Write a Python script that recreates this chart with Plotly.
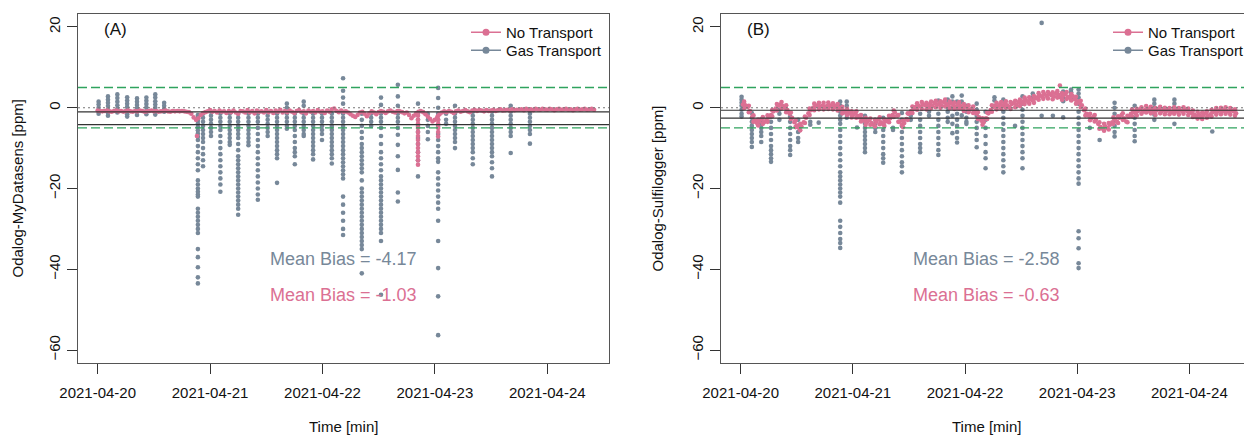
import plotly.graph_objects as go
import pandas as pd

# ---------------- data ----------------
START = pd.Timestamp("2021-04-20 00:00")
STEP_H = 0.5  # pink series sampled every 30 min (hours)

x_ticks = ["2021-04-20", "2021-04-21", "2021-04-22", "2021-04-23", "2021-04-24"]
y_ticks = [-60, -40, -20, 0, 20]
limit_lines = [5, -5]
zero_line = 0

panel_labels = ["(A)", "(B)"]
y_titles = ["Odalog-MyDatasens [ppm]", "Odalog-Sulfilogger [ppm]"]
x_title = "Time [min]"
series_names = ["No Transport", "Gas Transport"]

mean_bias_gas = [-4.17, -2.58]
mean_bias_none = [-1.03, -0.63]

# Panel A, No Transport (ppm, every 30 min from 0 h)
pink_A_start_h = 0.0
pink_A = [
    -0.7, -0.8, -0.9, -0.8, -0.7, -0.9, -1.0, -0.8, -0.7, -0.9, -0.8, -1.0,
    -0.8, -0.7, -0.9, -1.0, -0.8, -0.9, -0.7, -0.8, -1.0, -0.9, -0.8, -0.7,
    -0.9, -0.8, -1.0, -0.9, -0.8, -0.7, -0.9, -1.0, -0.8, -0.9, -0.8, -0.9,
    -0.8, -0.9, -1.0, -1.1, -1.5, -2.4, -3.0, -2.6, -1.8, -1.3, -1.1, -0.9,
    -0.6, -1.0, -0.8, -1.2, -0.7, -1.0, -0.9, -1.3, -0.8, -1.1, -0.7, -1.2,
    -1.5, -0.8, -0.9, -1.2, -0.6, -1.1, -0.8, -1.4, -0.7, -1.0, -0.9, -1.2,
    -0.6, -1.1, -0.8, -1.3, -0.7, -1.0, -0.5, -1.2, -0.8, -1.1, -0.7, -1.0,
    -1.3, -0.8, -0.6, -1.1, -0.9, -1.4, -0.7, -1.0, -0.8, -1.2, -0.6, -1.0,
    -0.9, -1.3, -0.7, -1.0, -0.4, -0.2, -0.8, -1.1, -0.7, -1.0, -0.9, -1.2,
    -1.6, -2.0, -2.3, -1.8, -1.2, -1.0, -1.5, -2.1, -1.4, -0.9, -1.2, -1.6,
    -1.1, -0.8, -1.0, -1.3, -0.9, -0.7, -1.0, -1.2, -0.8, -0.9, -1.1, -1.4,
    -1.2, -1.8, -2.6, -2.0, -1.4, -1.0, -0.8, -1.1, -1.6, -2.2, -2.8, -3.4,
    -3.0, -2.4, -1.6, -1.2, -0.9, -1.1, -0.8, -1.0, -1.3, -0.9, -0.7, -1.0,
    -0.8, -0.6, -0.9, -1.1, -0.7, -0.5, -0.8, -0.6, -0.7, -0.9, -0.6, -0.8,
    -0.7, -0.5, -0.8, -0.6, -0.4, -0.7, -0.6, -0.5, -0.7, -0.4, -0.6, -0.5,
    -0.5, -0.4, -0.6, -0.3, -0.5, -0.4, -0.6, -0.3, -0.4, -0.5, -0.3, -0.4,
    -0.5, -0.3, -0.4, -0.6, -0.4, -0.3, -0.5, -0.4, -0.3, -0.5, -0.4, -0.6,
    -0.4, -0.3, -0.5, -0.4, -0.3, -0.5, -0.4, -0.3, -0.5,
]
# Panel A, No Transport excursions: (hour, values)
pink_A_spikes = [
    (21.2, [-7.0]),
    (68.4, [-2, -3, -4, -5, -6, -7, -8, -9, -10, -11, -12, -13, -14.1]),
    (72.7, [-2, -3, -4, -5, -6, -7.1]),
]
# Panel A, Gas Transport: (hour, values)
gas_A_spikes = [
    (0.2, [1.5, 0.8, 0.0, -0.8, -1.5]),
    (2.2, [2.8, 2.0, 1.2, 0.4, -0.5, -1.3, -2.0]),
    (4.2, [3.3, 2.4, 1.5, 0.6, -0.3, -1.2]),
    (6.3, [2.6, 1.8, 1.0, 0.2, -0.7, -1.6, -2.2]),
    (8.4, [2.3, 1.5, 0.7, -0.1, -1.0, -1.8]),
    (10.4, [2.5, 1.7, 0.9, 0.1, -0.8, -1.6]),
    (12.3, [3.3, 2.5, 1.6, 0.8, 0.0, -0.9, -1.7]),
    (14.2, [1.2, 0.5, -0.3, -1.0]),
    (21.4, [-1.8, -2.5, -3.2, -4, -4.8, -5.6, -6.4, -7.2, -8, -9.5, -11, -12.5, -14,
            -15.5, -18, -19, -20, -20.8, -21.5, -22, -25, -26, -27, -28, -29, -30,
            -31, -35, -37, -39.5, -42, -43.5]),
    (22.5, [-1.5, -2.5, -3.5, -4.5, -5.5, -6.5, -7.5, -8.5, -10, -11.5, -13, -14.5]),
    (24.2, [-1, -2, -3, -4, -5, -6, -7]),
    (26.2, [-1.5, -2.5, -3.5, -4.5, -5.5, -7, -8.5, -10, -11.5, -13, -14.5, -16,
            -17.5, -19, -20.8]),
    (28.2, [-1.5, -2.5, -3.5, -4.5, -5.5, -6.5, -7.5, -8.5, -9.2]),
    (30.0, [-1.5, -2.5, -3.5, -4.5, -5.5, -6.5, -7.5, -9, -10.5, -12, -13, -14, -15,
            -16, -17, -18, -19, -20, -21, -22, -23, -24, -25, -26.5]),
    (32.2, [-1.5, -2.5, -3.5, -4.5, -5.5, -6.5, -7.5, -8.5, -9.3]),
    (34.2, [-1.5, -2.5, -3.5, -5, -6.5, -8, -9.5, -11, -12.5, -14, -15.5, -17,
            -18.5, -20, -21.5, -22.8]),
    (36.3, [-1, -2, -3, -4, -5, -6, -7]),
    (38.3, [-1.5, -2.5, -3.5, -4.5, -5.5, -6.5, -7.5, -8.5, -9.5, -10.5, -11.5,
            -12.5, -18.6]),
    (40.4, [1, 0, -1.5, -2.5, -3.5, -4.5, -5.2]),
    (42.1, [-1.5, -2.5, -3.5, -4.5, -5.5, -7, -8.5, -10, -11, -12, -14]),
    (44.0, [1.5, 0.5, -1.5, -2.5, -3.5, -4.5, -5.5, -6.5, -7]),
    (46.0, [-1.5, -2.5, -3.5, -4.5, -5.5, -6.5, -7.5, -8.5, -9.5, -10.5, -11.5, -12.8]),
    (47.9, [-1.5, -2.5, -3.5, -4.5, -5.5, -6.5, -8]),
    (50.0, [-1.5, -2.5, -3.5, -4.5, -5.5, -6.5, -7.5, -8.5, -9.5, -10.5, -11.5,
            -12.5, -13.8]),
    (52.4, [7.3, 4.2, 2.5, 1, -1.5, -2.5, -3.5, -4.5, -5.5, -6.5, -7.5, -8.5, -9.5,
            -10.5, -11.5, -12.5, -13.5, -14.5, -15.5, -16.5, -17.5, -22, -24, -26,
            -28, -30, -31.5]),
    (56.4, [-1.5, -3, -4.5, -6, -7.5, -9, -10, -11, -12, -13, -14, -15, -16, -18,
            -20, -21, -22, -23, -24, -25, -26, -27, -28, -29, -30, -31, -32, -33,
            -34, -35, -41]),
    (58.4, [-1.5, -2.5, -3.5, -4.5]),
    (60.5, [2.5, 0.7, -1.5, -2.5, -3.5, -5, -7, -9, -11, -12.5, -14, -15.5, -17,
            -18, -19, -20, -21, -22, -23, -24, -25, -26, -27, -28, -29, -30, -31,
            -33, -46.3]),
    (64.1, [5.7, 2.8, 0.5, -1.5, -2.5, -3.5, -5, -6.7, -9.2, -12, -15.4, -21, -23.2]),
    (68.4, [1, -1.5, -3, -4.5, -6, -7.5, -9, -11, -13, -17]),
    (70.5, [-1.5, -3, -4.5, -6, -7.8]),
    (72.7, [4.9, 2.4, 0, -1.5, -3, -4.5, -6.5, -8, -9.5, -11, -12.5, -13.4, -16,
            -17.5, -19, -20.5, -22, -23.5, -25, -28, -33, -39.7, -46.7, -56.3]),
    (74.4, [-1.5, -3, -4]),
    (76.3, [0.5, -1.5, -2.5, -3.5, -4.5, -5.5, -6.5, -7.5, -8.5, -10]),
    (80.1, [-1, -2, -3, -4, -5, -6, -7, -8, -9, -10, -11, -12.5, -14]),
    (84.2, [-1, -2, -3, -4, -5, -6, -7, -8, -9, -10, -11, -12, -13.5, -15, -17]),
    (88.2, [0.5, -1, -2, -3, -4, -5, -6, -7, -11.2]),
    (92.3, [-0.5, -1.5, -2.5, -3.5, -4.5, -5.5, -6.5, -8.9]),
]

# Panel B, No Transport (ppm, centre of the band every 30 min from 0.5 h)
pink_B_start_h = 0.5
pink_B = [
    0.8, 0.6, 0.2, -0.8, -2.2, -3.2, -3.8, -3.4, -2.8, -3.6, -3.0, -2.4,
    -1.8, -0.9, -0.2, 0.5, 0.8, 0.4, 0.0, -0.6, -1.5, -2.5, -3.6, -4.4,
    -5.0, -4.6, -3.6, -2.5, -1.4, -0.6, 0.0, 0.4, 0.6, 0.3, 0.5, 0.2,
    0.4, 0.6, 0.3, 0.5, 0.2, 0.0, -0.4, -0.8, -1.2, -0.9, -1.5, -1.8,
    -1.4, -2.0, -2.4, -2.8, -3.2, -3.6, -3.0, -3.8, -4.2, -3.5, -2.9, -3.6,
    -4.0, -3.4, -3.0, -2.6, -1.8, -1.2, -2.0, -3.4, -4.2, -3.8, -2.8, -1.5,
    -0.8, -0.3, 0.2, 0.5, 0.3, 0.8, 0.6, 0.2, 0.9, 0.5, 1.2, 0.7,
    1.0, 0.6, 1.4, 0.9, 0.4, 1.1, 0.7, 0.2, 0.8, 0.4, -0.2, 0.3,
    0.0, -0.5, -0.2, -0.8, -1.5, -2.4, -3.2, -3.6, -2.6, -1.4, -0.6, 0.2,
    0.5, 0.3, 0.8, 0.4, 1.0, 0.6, 0.2, 0.9, 1.2, 0.7, 1.4, 1.0,
    1.6, 1.9, 1.5, 2.1, 1.8, 2.3, 2.6, 3.0, 2.8, 3.3, 2.9, 3.4,
    3.1, 2.8, 3.5, 3.2, 2.6, 3.0, 3.4, 2.7, 2.4, 2.9, 2.1, 1.6,
    1.2, 0.6, -0.6, -1.5, -2.0, -2.6, -2.2, -3.0, -4.0, -4.8, -5.2, -4.6,
    -5.0, -4.2, -3.6, -2.8, -3.4, -2.5, -1.8, -2.6, -3.4, -2.2, -1.5, -1.0,
    -1.4, -0.8, -0.4, -1.0, -0.6, -0.2, -0.8, -0.4, -1.2, -0.7, -0.3, -0.9,
    -0.6, -0.9, -0.5, -1.1, -0.8, -0.6, -1.0, -0.7, -0.9, -0.5, -0.8, -1.1,
    -1.3, -1.7, -2.1, -1.6, -2.2, -1.8, -1.4, -2.0, -1.6, -1.1, -0.8, -1.0,
    -0.7, -0.9, -0.6, -0.8, -1.0, -0.7, -0.9, -1.4,
]
# Panel B, No Transport: upper and lower edge of the band, hourly from 0.75 h
pink_B_edge_start_h = 0.75
pink_B_upper = [
    1.5, 0.5, -1.9, -2.9, -2.3, -1.9, -0.6, 0.9, 1.4, 0.6, -1.2, -3.1,
    -4.0, -2.2, -0.2, 1.0, 1.2, 1.2, 1.3, 1.1, 0.9, 0.2, -0.3, -0.9,
    -0.9, -1.8, -2.5, -2.7, -3.0, -2.4, -2.9, -2.0, -0.7, -1.8, -3.2, -1.4,
    0.3, 1.1, 1.4, 1.2, 1.5, 1.7, 1.6, 2.0, 1.5, 1.3, 1.4, 0.9,
    0.6, 0.3, -1.1, -2.6, -1.2, 0.6, 1.2, 1.4, 1.6, 1.4, 1.7, 2.0,
    2.5, 2.6, 2.9, 3.6, 3.9, 3.9, 3.8, 4.1, 3.6, 3.9, 3.4, 2.7,
    1.7, -0.2, -1.5, -1.8, -3.6, -4.0, -3.8, -2.4, -2.1, -1.4, -2.0, -0.4,
    -0.3, 0.1, 0.4, 0.2, -0.1, 0.2, 0.0, -0.1, 0.1, -0.1, 0.1, -0.2,
    -0.7, -1.0, -1.2, -0.9, -0.5, -0.1, 0.0, 0.1, -0.1, -0.4,
]
pink_B_lower = [
    -0.1, -1.1, -3.5, -4.4, -4.0, -3.5, -2.1, -0.7, -0.2, -1.1, -2.8, -4.8,
    -5.6, -3.8, -1.8, -0.6, -0.4, -0.4, -0.3, -0.4, -0.7, -1.4, -1.8, -2.4,
    -2.5, -3.4, -4.2, -4.2, -4.6, -4.1, -4.5, -3.6, -2.3, -3.5, -4.8, -3.0,
    -1.3, -0.5, -0.3, -0.4, -0.1, 0.1, 0.0, 0.3, -0.1, -0.3, -0.2, -0.8,
    -1.1, -1.3, -2.8, -4.2, -2.8, -1.0, -0.4, -0.2, 0.0, -0.3, 0.1, 0.4,
    0.9, 1.0, 1.2, 2.0, 2.2, 2.3, 2.1, 2.5, 2.0, 2.2, 1.8, 1.0,
    0.1, -1.9, -3.1, -3.4, -5.2, -5.7, -5.4, -4.0, -3.8, -3.0, -3.6, -2.1,
    -1.9, -1.5, -1.2, -1.4, -1.8, -1.4, -1.6, -1.6, -1.5, -1.7, -1.5, -1.8,
    -2.3, -2.7, -2.8, -2.5, -2.2, -1.7, -1.6, -1.5, -1.7, -2.0,
]
pink_B_spikes = [
    (68.3, [5.5]),
]
# Panel B, Gas Transport: (hour, values)
gas_B_spikes = [
    (0.2, [2.7, 2.0, 1.2, 0.5, -0.5, -1.5, -2.2]),
    (2.4, [-1.3, -2.5, -3.5, -4.5, -5.5, -6.5, -7.5, -8.5, -9.7]),
    (4.4, [-3, -4, -5, -6, -7, -8.5]),
    (6.5, [-2.2, -3.5, -5, -6.5, -8, -9.5, -10.5, -11.5, -12.5, -13.4]),
    (8.3, [-0.5, -1.5, -3]),
    (10.6, [-2.2, -3.5, -5, -6.5, -8, -9.5, -10.5, -11.7]),
    (12.3, [-3, -4.5, -6, -7.5, -8.5]),
    (14.9, [-3.5, -4.2]),
    (16.7, [-3.7]),
    (21.3, [1.5, 0.5, -1, -2, -3, -4, -5.5, -7, -8.5, -10, -11.5, -13, -14.5, -16,
            -17, -18, -19, -20, -21, -22, -23.5, -28, -29.5, -31, -32.5, -33.5, -34.7]),
    (22.7, [1.5, 0.5, -0.5, -1.5, -2.5]),
    (24.9, [-4.9]),
    (26.6, [-2, -3, -4, -5, -6, -7, -8, -9, -10, -11]),
    (28.8, [-3, -4, -5, -6]),
    (30.5, [-2.5, -4, -5.5, -7, -8.5, -10, -11.5, -12.5, -13.6]),
    (32.6, [-5, -5.5]),
    (34.5, [-1.3, -3, -4.5, -6, -7.5, -9, -10.5, -12, -13.5, -14.5, -16]),
    (36.4, [-1, -2, -3]),
    (38.4, [-1.5, -3, -4.5, -6, -7.5, -9, -10, -11]),
    (40.3, [0.5, -1, -2]),
    (42.3, [1.8, -1.5, -3, -4.5, -6, -7.5, -9, -10.5, -11.7]),
    (44.3, [2, 1, 0, -1, -2.5, -3.5]),
    (45.3, [2.8, 1.5, 0, -2, -4, -6.3]),
    (46.3, [1.5, 0, -1.5, -3, -4.5, -6, -7.5, -8.6]),
    (47.3, [3.0, 1.5, 0, -1.9]),
    (48.3, [0.5, -1, -2.5, -3.5, -4]),
    (50.5, [1, -0.5, -2, -3.5, -5, -6.5, -8, -9.8]),
    (52.4, [-1, -3, -5, -7, -9, -11, -12.5, -15]),
    (54.3, [2.6, 1.8, 0.5]),
    (56.2, [2, 0.5, -1, -2.5, -4, -5.5, -7, -8.5, -10, -11.5, -13, -14.5, -16]),
    (58.7, [-4.5]),
    (60.3, [2.8, 1, -0.5, -2, -3.5, -5, -6.5, -8, -9.5, -11, -12.5, -15]),
    (62.5, [3.5, 2.6]),
    (64.4, [21.0, -2]),
    (66.8, [-2]),
    (69.0, [4.0, 3.5, 2.5, 1.6, -2.4]),
    (70.7, [4.5, 3.8, 3.0, 2.0]),
    (72.3, [4.5, 3.5, 2.5, 1, -1, -2.5, -4, -5.5, -7, -8.5, -10, -11.5, -13, -14.5,
            -16, -17.5, -18.8, -30.6, -32.3, -34.8, -38.5, -39.7]),
    (74.7, [-5]),
    (76.8, [-8]),
    (80.0, [1.2, 0, -1.5, -3, -4.5, -6, -7.1]),
    (84.3, [0.5, -1, -2.5, -4, -5.5, -7, -8.3]),
    (88.5, [2, 1, 0, -1, -1.7, -3]),
    (92.8, [2, 1, 0, -1, -4]),
    (100.9, [-5.9]),
]

# ---------------- helpers ----------------
def times(hours):
    return [START + pd.Timedelta(hours=h) for h in hours]

def series_times(start_h, values, step):
    return times([start_h + i * step for i in range(len(values))])

def flatten(spikes):
    hs, vs = [], []
    for h, vals in spikes:
        for v in vals:
            hs.append(h)
            vs.append(v)
    return times(hs), vs

PINK = "#DB7093"
GRAY = "#778899"
GREEN = "#2FA35E"
FONT = "Liberation Sans, Arial, sans-serif"
MS = 4.6

fig = go.Figure()

panels = [
    dict(xa="x", ya="y",
         pink=[(pink_A_start_h, pink_A, STEP_H)],
         pink_sp=pink_A_spikes, gas=gas_A_spikes, legends=("legend", "legend2")),
    dict(xa="x2", ya="y2",
         pink=[(pink_B_start_h, pink_B, STEP_H),
               (pink_B_edge_start_h, pink_B_upper, 1.0),
               (pink_B_edge_start_h, pink_B_lower, 1.0)],
         pink_sp=pink_B_spikes, gas=gas_B_spikes, legends=("legend3", "legend4")),
]

for p in panels:
    gx, gy = flatten(p["gas"])
    fig.add_trace(go.Scatter(x=gx, y=gy, mode="markers", xaxis=p["xa"], yaxis=p["ya"],
                             marker=dict(color=GRAY, size=MS, line=dict(width=0)),
                             showlegend=False, hoverinfo="skip"))
    px, py = [], []
    for s0, vals, step in p["pink"]:
        px += series_times(s0, vals, step)
        py += list(vals)
    sx, sy = flatten(p["pink_sp"])
    fig.add_trace(go.Scatter(x=px + sx, y=py + sy, mode="markers", xaxis=p["xa"], yaxis=p["ya"],
                             marker=dict(color=PINK, size=MS, line=dict(width=0)),
                             showlegend=False, hoverinfo="skip"))
    for name, col, leg in zip(series_names, [PINK, GRAY], p["legends"]):
        fig.add_trace(go.Scatter(x=[None], y=[None], mode="lines+markers", name=name,
                                 xaxis=p["xa"], yaxis=p["ya"], legend=leg,
                                 line=dict(color=col, width=1.5),
                                 marker=dict(color=col, size=7)))

# page is offset by the 8px body margin; reference pixel -> figure pixel = ref - OFF
OFF = 8
W, H = 1244, 427
def px_x(v):
    return (v - OFF) / W
def px_y(v):
    return 1 - (v - OFF) / H

xdom = [[px_x(78), px_x(609)], [px_x(721), px_x(1251)]]
ydom = [px_y(363), px_y(14)]
x_range = ["2021-04-19 19:48", "2021-04-24 13:11"]
y_range = [-63.2, 23.2]

axis_common = dict(showline=True, mirror=True, linecolor="#555555", linewidth=1.3,
                   ticks="outside", ticklen=10, tickwidth=1.1, tickcolor="#333333",
                   showgrid=False, zeroline=False, automargin=False,
                   tickfont=dict(family=FONT, size=15, color="#111111"))

layout = dict(
    width=W, height=H, margin=dict(l=0, r=0, t=0, b=0),
    paper_bgcolor="white", plot_bgcolor="white",
    font=dict(family=FONT, size=15, color="#111111"),
)
for i, (xk, yk) in enumerate([("xaxis", "yaxis"), ("xaxis2", "yaxis2")]):
    layout[xk] = dict(axis_common, domain=xdom[i], range=x_range, type="date",
                      tickvals=x_ticks, ticktext=x_ticks, ticklabelstandoff=6,
                      anchor="y" if i == 0 else "y2")
    layout[yk] = dict(axis_common, domain=ydom, range=y_range, tickvals=y_ticks,
                      tickangle=-90, ticklabelstandoff=1,
                      anchor="x" if i == 0 else "x2")

leg_common = dict(font=dict(family=FONT, size=15, color="#111111"), bgcolor="rgba(0,0,0,0)",
                  borderwidth=0, tracegroupgap=0, itemwidth=30,
                  xanchor="left", yanchor="top")
layout["legend"] = dict(leg_common, x=px_x(466), y=px_y(16))
layout["legend2"] = dict(leg_common, x=px_x(466), y=px_y(34))
layout["legend3"] = dict(leg_common, x=px_x(1108), y=px_y(16))
layout["legend4"] = dict(leg_common, x=px_x(1108), y=px_y(34))
fig.update_layout(**layout)

shapes = []
annotations = []
title_x = [17, 657]
for i, (xa, ya) in enumerate([("x", "y"), ("x2", "y2")]):
    for lv in limit_lines:
        shapes.append(dict(type="line", xref=f"{xa} domain", yref=ya, x0=0, x1=1, y0=lv, y1=lv,
                           line=dict(color=GREEN, width=1.3, dash="9px,4px")))
    shapes.append(dict(type="line", xref=f"{xa} domain", yref=ya, x0=0, x1=1,
                       y0=zero_line, y1=zero_line,
                       line=dict(color="#777777", width=1.1, dash="2px,3px")))
    for mb in (mean_bias_none[i], mean_bias_gas[i]):
        shapes.append(dict(type="line", xref=f"{xa} domain", yref=ya, x0=0, x1=1, y0=mb, y1=mb,
                           line=dict(color="#333333", width=1.2)))
    left = [78, 721][i]
    annotations.append(dict(text=panel_labels[i], xref="paper", yref="paper",
                            x=px_x(left + 37), y=px_y(29.5), xanchor="center", yanchor="middle",
                            showarrow=False, font=dict(family=FONT, size=17, color="#111111")))
    xc = (xdom[i][0] + xdom[i][1]) / 2
    annotations.append(dict(text=f"Mean Bias = {mean_bias_gas[i]:.2f}", xref="paper",
                            yref="paper", x=xc, y=px_y(259), xanchor="center", yanchor="middle",
                            showarrow=False, font=dict(family=FONT, size=18, color=GRAY)))
    annotations.append(dict(text=f"Mean Bias = {mean_bias_none[i]:.2f}", xref="paper",
                            yref="paper", x=xc, y=px_y(295), xanchor="center", yanchor="middle",
                            showarrow=False, font=dict(family=FONT, size=18, color=PINK)))
    annotations.append(dict(text=x_title, xref="paper", yref="paper", x=xc, y=px_y(426.5),
                            xanchor="center", yanchor="middle",
                            showarrow=False, font=dict(family=FONT, size=15, color="#111111")))
    annotations.append(dict(text=y_titles[i], xref="paper", yref="paper",
                            x=px_x(title_x[i]), y=px_y(188.5), textangle=-90,
                            xanchor="center", yanchor="middle",
                            showarrow=False, font=dict(family=FONT, size=15, color="#111111")))

fig.update_layout(shapes=shapes, annotations=annotations)
fig.write_html("out.html")
